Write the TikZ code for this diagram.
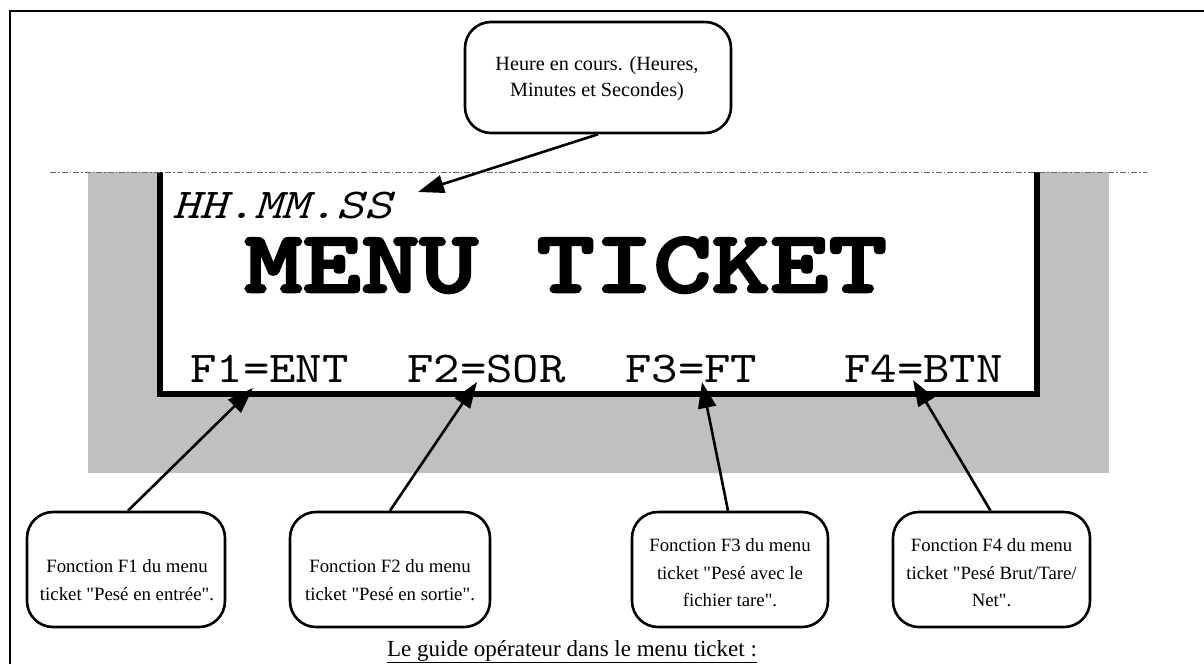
\documentclass[tikz,border=0pt]{standalone}
\usepackage{fontspec}
\setmainfont{Liberation Serif}[Ligatures=TeXOff]
\newfontfamily\courF[FakeStretch=1.143]{lmmono10-regular.otf}
\newfontfamily\courI[FakeStretch=1.23]{lmmono10-italic.otf}
\newfontfamily\courT[FakeStretch=1.265,FakeBold=3]{lmmonolt10-bold.otf}
\usetikzlibrary{arrows.meta}
\definecolor{silver}{HTML}{C0C0C0}
\begin{document}
\begin{tikzpicture}[x=1pt,y=-1pt,
  callout/.style={draw,line width=2.6pt,rounded corners=26pt,inner sep=0pt},
  calltext/.style={align=center,inner sep=0pt,font=\fontsize{18.8}{27.5}\selectfont},
  pointer/.style={line width=2.6pt,-{Triangle[length=26pt,width=18pt]}},
  fkey/.style={font=\courF\fontsize{44}{44}\selectfont,anchor=base west,inner sep=0pt},
]
\useasboundingbox (0,0) rectangle (1204,664);
\fill[white] (0,0) rectangle (1204,664);
% outer frame
\draw[line width=2pt] (10,664) -- (10,11) -- (1204,11);
% grey surround and display
\fill[silver] (88,172) rectangle (1109,473);
\fill[white] (157,172) rectangle (1040,397);
\fill[black] (157,172) rectangle (163,397);
\fill[black] (1034,172) rectangle (1040,397);
\fill[black] (157,391) rectangle (1040,397);
\draw[gray!80!black, line width=0.8pt, dash pattern=on 6pt off 2pt on 1.5pt off 2pt] (50,172) -- (1147,172);
% display texts
\node[anchor=base west, inner sep=0pt, font=\courI\fontsize{42.5}{42.5}\selectfont] (hms) at (172,218) {HH.MM.SS};
\node[anchor=base west, inner sep=0pt, font=\courT\fontsize{88}{88}\selectfont] (title) at (244,292) {MENU TICKET};
\node[fkey] (f1) at (190,382) {F1=ENT};
\node[fkey] (f2) at (407,382) {F2=SOR};
\node[fkey] (f3) at (625,382) {F3=FT};
\node[fkey] (f4) at (844,382) {F4=BTN};
% arrow tips
\coordinate (t0) at (418,192);
\coordinate (t1) at (253,388);
\coordinate (t2) at (477,382);
\coordinate (t3) at (702,382);
\coordinate (t4) at (913,380);
% callouts
\node[callout, minimum width=266pt, minimum height=111pt] (c0) at (598,77.5) {};
\node[calltext, font=\fontsize{20.2}{26}\selectfont] (c0t) at (597,79) {Heure en cours. (Heures,\\Minutes et Secondes)};
\node[callout, minimum width=198pt, minimum height=115pt] (c1) at (126,569.5) {};
\node[calltext] (c1t) at (127,580) {Fonction F1 du menu\\ticket "Pesé en entrée".};
\node[callout, minimum width=200pt, minimum height=115pt] (c2) at (390,569.5) {};
\node[calltext] (c2t) at (390,580) {Fonction F2 du menu\\ticket "Pesé en sortie".};
\node[callout, minimum width=196pt, minimum height=115pt] (c3) at (730,569.5) {};
\node[calltext] (c3t) at (730,573) {Fonction F3 du menu\\ticket "Pesé avec le\\fichier tare".};
\node[callout, minimum width=197pt, minimum height=115pt] (c4) at (991.5,569.5) {};
\node[calltext] (c4t) at (991.5,573) {Fonction F4 du menu\\ticket "Pesé Brut/Tare/\\Net".};
% pointers
\draw[pointer] (c0.south) -- (t0);
\draw[pointer] ([xshift=2pt]c1.north) -- (t1);
\draw[pointer] (c2.north) -- (t2);
\draw[pointer] ([xshift=-2pt]c3.north) -- (t3);
\draw[pointer] ([xshift=-1pt]c4.north) -- (t4);
% caption
\node[anchor=base, inner sep=0pt, font=\fontsize{23}{23}\selectfont] (cap) at (572,656) {\underline{Le guide opérateur dans le menu ticket :}};
\end{tikzpicture}
\end{document}
